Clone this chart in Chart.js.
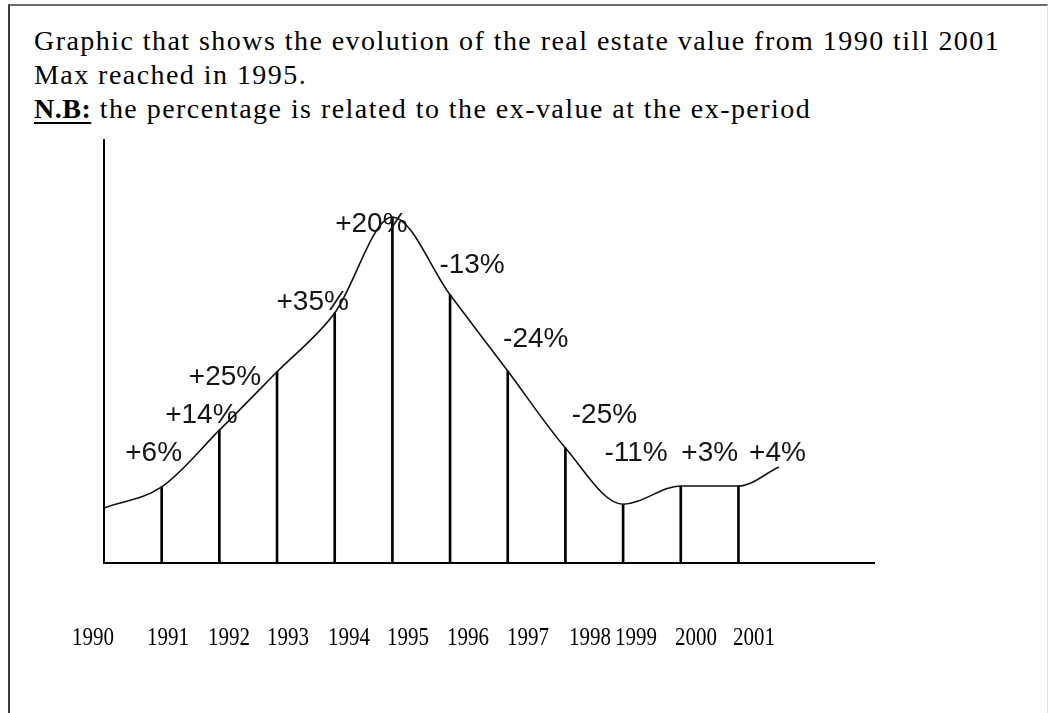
<!DOCTYPE html>
<html><head><meta charset="utf-8">
<script src="https://cdn.jsdelivr.net/npm/chart.js@4"></script>
<style>
html,body{margin:0;padding:0;background:#fff;width:1053px;height:713px;overflow:hidden;}
#frame{position:absolute;left:8px;top:4px;width:1037px;height:760px;border-top:2px solid #6a6a6a;border-left:2px solid #3c3c3c;border-right:1px solid #e2e2e2;}
#title{position:absolute;left:34px;top:24px;font-family:"Liberation Serif","Times New Roman",serif;font-size:28px;line-height:34px;letter-spacing:1.45px;color:#000;white-space:nowrap;}
#title b{text-decoration:underline;text-decoration-thickness:2px;text-underline-offset:4px;letter-spacing:0.5px;}
#wrap{position:absolute;left:0;top:0;width:1053px;height:713px;}
#years{position:absolute;left:0;top:0;}
.yr{position:absolute;top:624px;font-family:"Liberation Serif","Times New Roman",serif;font-size:25px;line-height:25px;color:#000;white-space:nowrap;transform:translateX(-50%) scaleX(0.84);}
</style></head>
<body>
<div id="frame"></div>
<div id="title">
<div>Graphic that shows the evolution of the real estate value from 1990 till 2001</div>
<div>Max reached in 1995.</div>
<div><b>N.B:</b> the percentage is related to the ex-value at the ex-period</div>
</div>
<div id="wrap"><canvas id="c" width="1053" height="713"></canvas></div>
<div id="years"></div>
<script>
// ---- data (y in arbitrary units, axis 0..100) ----
const years      = [1990, 1991, 1992, 1993, 1994, 1995, 1996, 1997, 1998, 1999, 2000, 2001];
const values     = [13.0, 18.0, 31.4, 45.2, 59.1, 81.8, 63.4, 45.4, 27.2, 13.9, 18.2, 18.2];
const tailYear   = 2001.7;   // the drawn curve runs a little past 2001
const tailValue  = 22.7;
const changes    = ['', '+6%', '+14%', '+25%', '+35%', '+20%', '-13%', '-24%', '-25%', '-11%', '+3%', '+4%'];
const tickLabels = ['1990', '1991', '1992', '1993', '1994', '1995', '1996', '1997', '1998', '1999', '2000', '2001'];

// ---- layout (not data) ----
const labelOffsets = [[0,0],[-8,-34],[-18,-15],[-52,5],[-22,-11],[-21,7],[22,-30],[28,-32],[39,-33],[13,-51],[29,-33],[39,-33]];
const yearLabelX = [92.5,168,229,288,349,408,468,528,590,636,696,754];

const curveData = years.map((y, i) => ({x: y, y: values[i]})).concat([{x: tailYear, y: tailValue}]);
const dropData  = years.slice(1).map((y, i) => ({x: y, y: values[i + 1]}));

const pctPlugin = {
  id: 'pct',
  afterDatasetsDraw(chart) {
    const meta = chart.getDatasetMeta(1);
    const ctx = chart.ctx;
    ctx.save();
    ctx.font = '28px "Liberation Sans", Arial, sans-serif';
    ctx.fillStyle = '#151515';
    ctx.textAlign = 'center';
    ctx.textBaseline = 'middle';
    meta.data.forEach((el, i) => {
      const k = i + 1;
      const off = labelOffsets[k];
      ctx.fillText(changes[k], el.x + off[0], el.y + off[1]);
    });
    ctx.restore();
  }
};

new Chart(document.getElementById('c'), {
  type: 'line',
  data: {
    datasets: [
      {
        type: 'line',
        data: curveData,
        borderColor: '#111',
        borderWidth: 1.6,
        pointRadius: 0,
        fill: false,
        cubicInterpolationMode: 'monotone',
        order: 1
      },
      {
        type: 'bar',
        data: dropData,
        backgroundColor: '#000',
        borderWidth: 0,
        barThickness: 2,
        order: 2
      }
    ]
  },
  options: {
    responsive: false,
    animation: false,
    events: [],
    layout: {padding: {left: 104, top: 140, right: 179, bottom: 150}},
    plugins: {legend: {display: false}, tooltip: {enabled: false}},
    scales: {
      x: {
        type: 'linear', min: 1990, max: 2003.35, offset: false,
        grid: {display: false, drawTicks: false},
        ticks: {display: false},
        border: {display: true, color: '#000', width: 2}
      },
      y: {
        type: 'linear', min: 0, max: 100,
        grid: {display: false, drawTicks: false},
        ticks: {display: false},
        border: {display: true, color: '#000', width: 2}
      }
    }
  },
  plugins: [pctPlugin]
});

const yc = document.getElementById('years');
tickLabels.forEach((t, i) => {
  const s = document.createElement('span');
  s.className = 'yr';
  s.textContent = t;
  s.style.left = yearLabelX[i] + 'px';
  yc.appendChild(s);
});
</script>
</body></html>
